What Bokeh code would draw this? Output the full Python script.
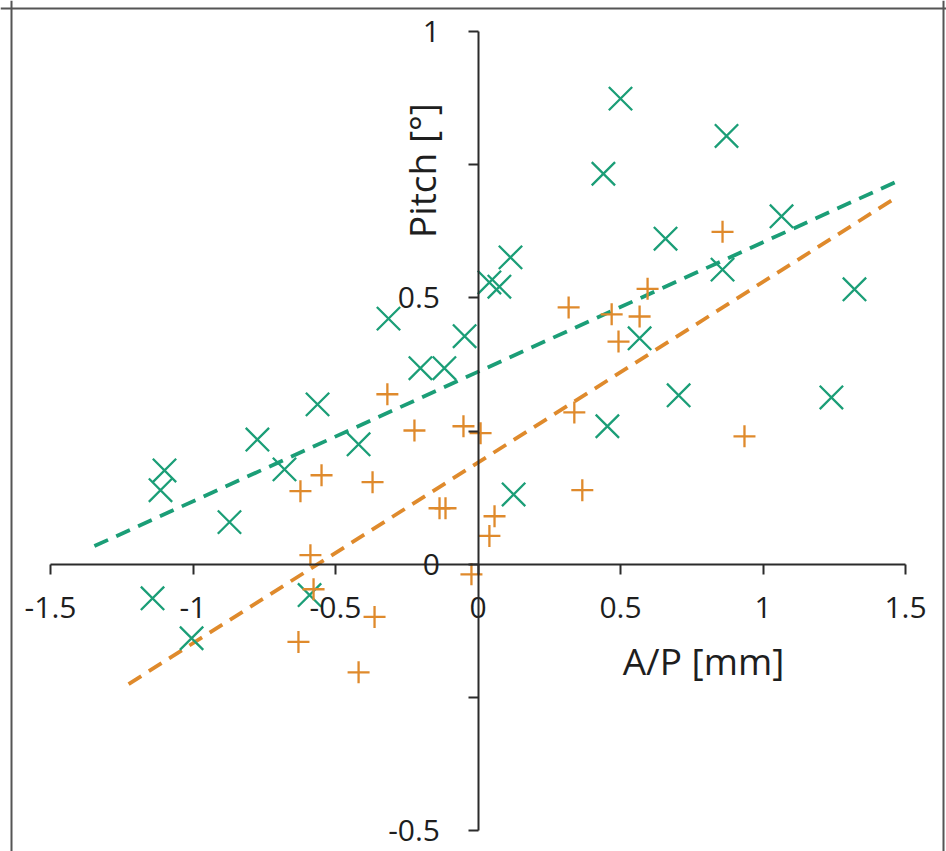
import math
from bokeh.plotting import figure
from bokeh.models import Range1d, FixedTicker, Label, Span
from bokeh.embed import file_html
from bokeh.resources import INLINE

# ---- data ----
green_x = [-1.100, -1.114, -0.872, -0.774, -0.679, -0.563, -0.419, -0.314, -0.202, -0.118,
           -0.047, 0.040, 0.075, 0.114, 0.125, 0.440, 0.454, 0.500, 0.567, 0.658,
           0.704, 0.858, 0.872, 1.065, 1.240, 1.321, -1.142, -1.005, -0.591]
green_y = [0.176, 0.139, 0.079, 0.234, 0.178, 0.300, 0.225, 0.461, 0.368, 0.368,
           0.428, 0.529, 0.521, 0.576, 0.131, 0.733, 0.259, 0.874, 0.424, 0.611,
           0.317, 0.553, 0.804, 0.653, 0.313, 0.516, -0.064, -0.139, -0.058]

orange_x = [-0.318, -0.223, -0.051, 0.009, -0.370, -0.135, -0.114, 0.058, 0.040, -0.023,
            -0.549, -0.623, -0.588, -0.577, -0.363, -0.630, -0.419, 0.318, 0.469, 0.567,
            0.595, 0.858, 0.493, 0.338, 0.935, 0.366]
orange_y = [0.319, 0.251, 0.259, 0.246, 0.154, 0.105, 0.105, 0.090, 0.053, -0.019,
            0.167, 0.137, 0.017, -0.047, -0.099, -0.146, -0.203, 0.482, 0.469, 0.465,
            0.517, 0.624, 0.418, 0.285, 0.240, 0.139]

green_trend_x = [-1.346, 1.468]
green_trend_y = [0.034, 0.718]
orange_trend_x = [-1.226, 1.472]
orange_trend_y = [-0.225, 0.690]

x_ticks = [-1.5, -1.0, -0.5, 0.0, 0.5, 1.0, 1.5]
x_tick_labels = ["-1.5", "-1", "-0.5", "0", "0.5", "1", "1.5"]
y_ticks = [-0.5, 0.0, 0.5, 1.0]
y_tick_labels = ["-0.5", "0", "0.5", "1"]
y_minor_ticks = [-0.25, 0.25, 0.75]

x_title = "A/P [mm]"
y_title = "Pitch [°]"

# ---- styling / layout ----
GREEN = "#1b9e77"
ORANGE = "#df8a2c"
INK = "#1e1e1e"
AXIS = "#2b2b2b"
BORDER = "#555555"
FONT = "Open Sans"

W, H = 946, 851
PX_X = 285.0        # pixels per x unit
PX_Y = 532.7        # pixels per y unit
X_LEFT_PX = 50      # pixel of x = -1.5
Y_TOP_PX = 31       # pixel of y = 1
x0 = -1.5 - X_LEFT_PX / PX_X
y1 = 1.0 + Y_TOP_PX / PX_Y


def dx(px):
    return x0 + px / PX_X


def dy(py):
    return y1 - py / PX_Y


p = figure(width=W, height=H, output_backend="svg", toolbar_location=None,
           x_range=Range1d(x0, x0 + W / PX_X), y_range=Range1d(y1 - H / PX_Y, y1),
           min_border=0, background_fill_color="white", border_fill_color="white")
p.outline_line_color = None
p.grid.visible = False

xa = p.xaxis[0]
xa.fixed_location = 0
xa.bounds = (-1.5, 1.5)
xa.ticker = FixedTicker(ticks=x_ticks)
xa.major_label_overrides = {t: s for t, s in zip(x_ticks, x_tick_labels)}
ya = p.yaxis[0]
ya.fixed_location = 0
ya.bounds = (-0.5, 1.0)
ya.ticker = FixedTicker(ticks=y_ticks, minor_ticks=y_minor_ticks)
ya.major_label_overrides = {t: s for t, s in zip(y_ticks, y_tick_labels)}

for ax in (xa, ya):
    ax.axis_line_color = AXIS
    ax.axis_line_width = 2
    ax.major_tick_line_color = AXIS
    ax.major_tick_line_width = 2
    ax.major_tick_in = 0
    ax.major_tick_out = 10
    ax.minor_tick_line_color = AXIS
    ax.minor_tick_line_width = 2
    ax.minor_tick_in = 0
    ax.minor_tick_out = 10
    ax.major_label_text_font = FONT
    ax.major_label_text_font_size = "30px"
    ax.major_label_text_color = INK
xa.major_label_standoff = 23
ya.major_label_standoff = 28

p.line(green_trend_x, green_trend_y, line_color=GREEN, line_width=3.8, line_dash="15 9")
p.line(orange_trend_x, orange_trend_y, line_color=ORANGE, line_width=3.8, line_dash="15 9")
p.scatter(green_x, green_y, marker="x", size=33, line_color=GREEN, line_width=2.3)
p.scatter(orange_x, orange_y, marker="cross", size=22, line_color=ORANGE, line_width=2.3)

p.add_layout(Label(x=dx(703), y=dy(660), text=x_title, text_align="center",
                   text_baseline="middle", text_font=FONT, text_font_size="37px",
                   text_color=INK))
p.add_layout(Label(x=dx(421), y=dy(170), text=y_title, angle=math.pi / 2,
                   text_align="center", text_baseline="middle", text_font=FONT,
                   text_font_size="37px", text_color=INK))

# frame around the picture (left, top, right)
p.add_layout(Span(location=dx(11), dimension="height", line_color=BORDER, line_width=2))
p.add_layout(Span(location=dx(943), dimension="height", line_color=BORDER, line_width=2))
p.add_layout(Span(location=dy(8), dimension="width", line_color=BORDER, line_width=2))

open("out.html", "w").write(file_html(p, INLINE))
